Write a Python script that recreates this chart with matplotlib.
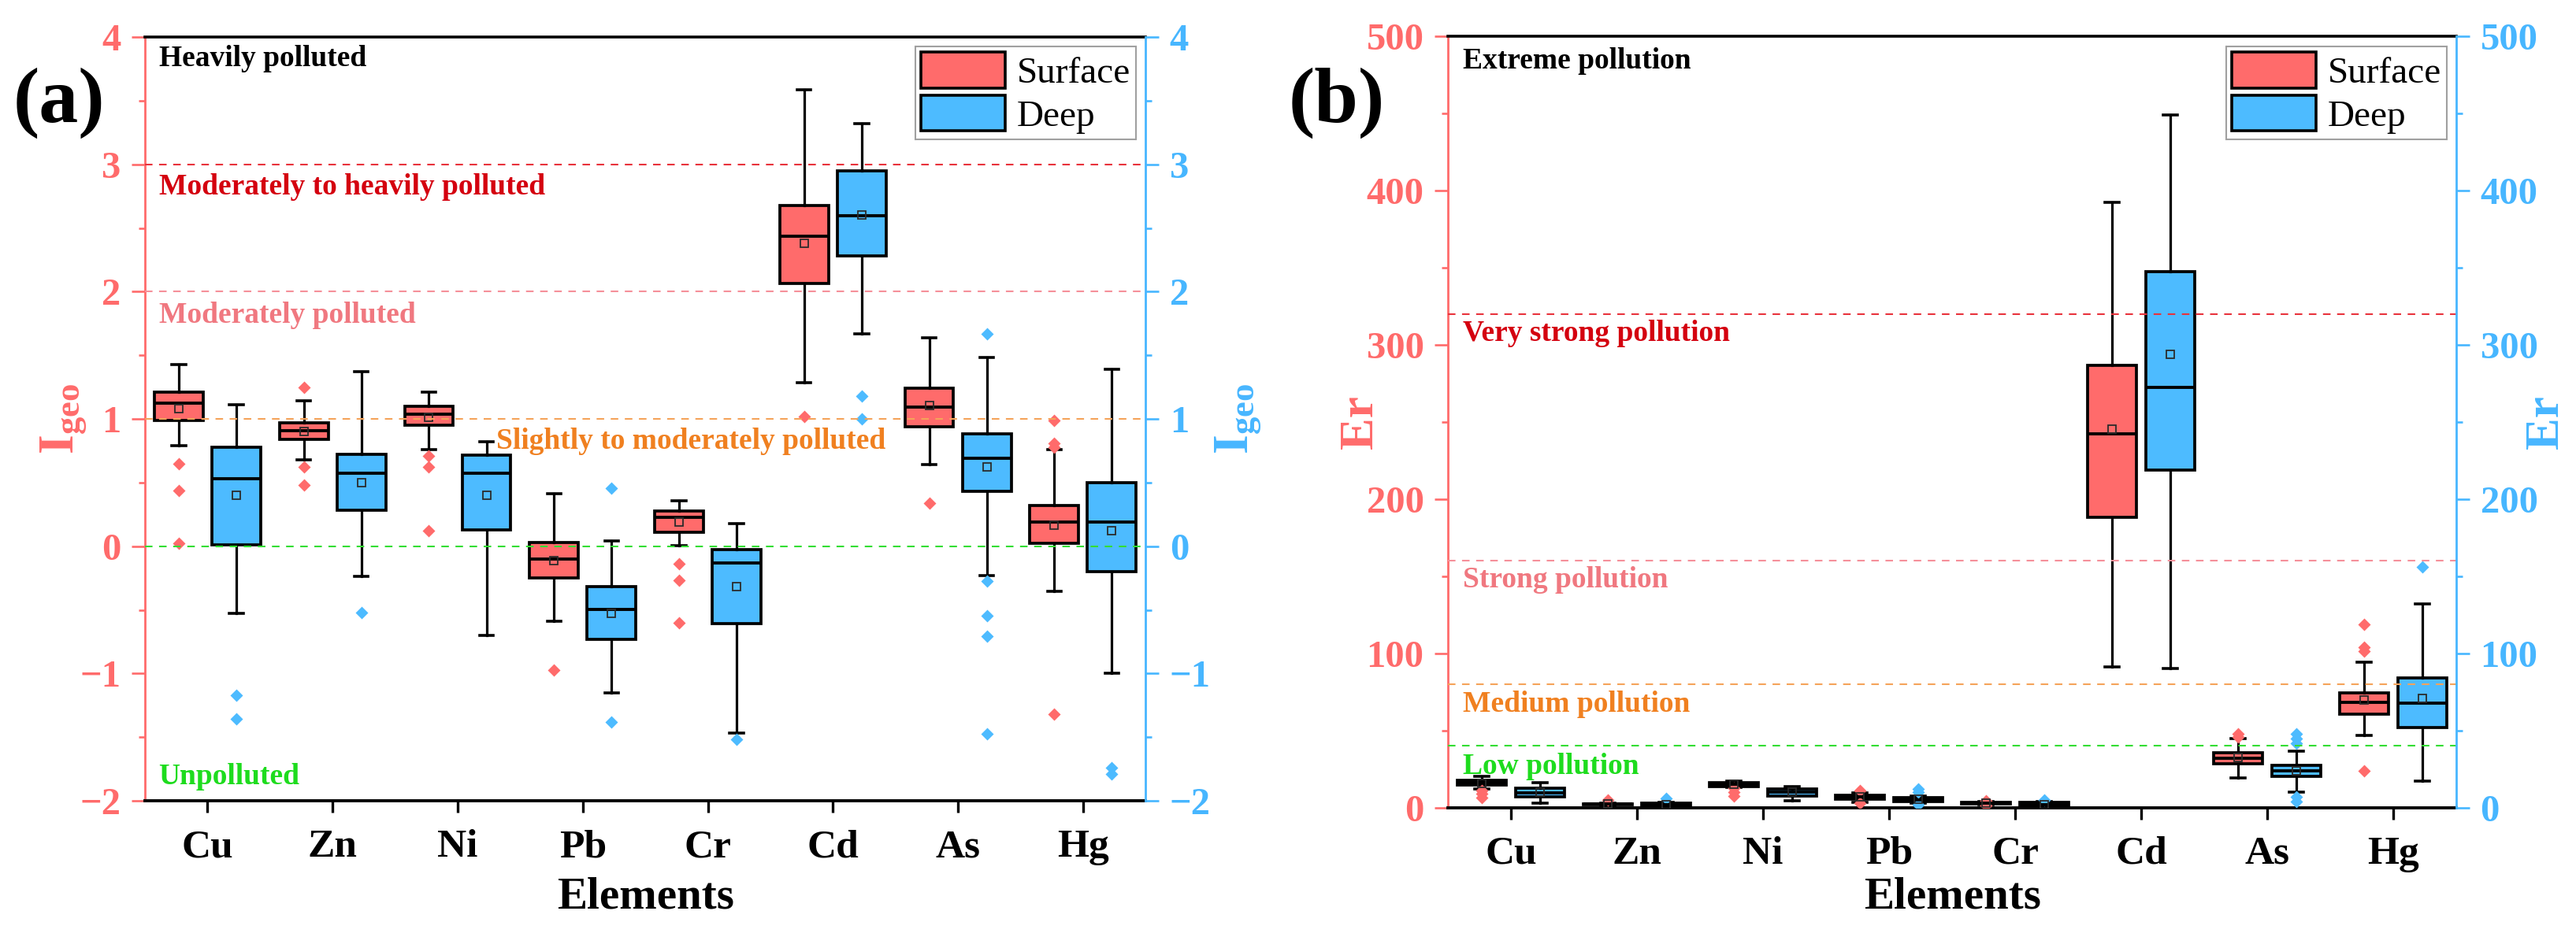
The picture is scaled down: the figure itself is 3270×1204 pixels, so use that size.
import matplotlib
matplotlib.use('Agg')
import matplotlib.pyplot as plt
from matplotlib.patches import Patch
from matplotlib.ticker import MultipleLocator
import numpy as np

plt.rcParams['font.family'] = ['Liberation Serif', 'DejaVu Serif']
plt.rcParams['mathtext.fontset'] = 'custom'
plt.rcParams['mathtext.rm'] = 'Liberation Serif'
plt.rcParams['mathtext.bf'] = 'Liberation Serif:bold'
plt.rcParams['mathtext.it'] = 'Liberation Serif:italic'
plt.rcParams['axes.unicode_minus'] = True

# ---------------- data ----------------
elements = ['Cu', 'Zn', 'Ni', 'Pb', 'Cr', 'Cd', 'As', 'Hg']

# (a) Igeo, surface soil
igeo_surf_low = [0.79, 0.68, 0.76, -0.59, 0.005, 1.284, 0.64, -0.354]
igeo_surf_q1 = [0.99, 0.84, 0.95, -0.25, 0.11, 2.066, 0.94, 0.023]
igeo_surf_med = [1.125, 0.905, 1.035, -0.10, 0.225, 2.437, 1.095, 0.188]
igeo_surf_q3 = [1.21, 0.97, 1.10, 0.03, 0.276, 2.674, 1.24, 0.317]
igeo_surf_high = [1.43, 1.14, 1.21, 0.41, 0.356, 3.585, 1.635, 0.76]
igeo_surf_mean = [1.08, 0.90, 1.01, -0.115, 0.19, 2.38, 1.107, 0.168]
igeo_surf_out = [[0.65, 0.44, 0.02], [1.25, 0.62, 0.48], [0.71, 0.625, 0.12],
                 [-0.975], [-0.137, -0.27, -0.60], [1.017], [0.34],
                 [0.99, 0.81, 0.78, -1.32]]

# (a) Igeo, deep soil
igeo_deep_low = [-0.53, -0.235, -0.70, -1.15, -1.47, 1.668, -0.23, -1.0]
igeo_deep_q1 = [0.01, 0.28, 0.13, -0.73, -0.61, 2.28, 0.43, -0.2]
igeo_deep_med = [0.53, 0.575, 0.575, -0.495, -0.13, 2.596, 0.69, 0.188]
igeo_deep_q3 = [0.78, 0.72, 0.715, -0.32, -0.026, 2.95, 0.88, 0.498]
igeo_deep_high = [1.11, 1.37, 0.82, 0.04, 0.175, 3.32, 1.48, 1.39]
igeo_deep_mean = [0.40, 0.50, 0.40, -0.53, -0.32, 2.60, 0.62, 0.12]
igeo_deep_out = [[-1.17, -1.355], [-0.52], [], [0.457, -1.38], [-1.515],
                 [1.18, 1.0], [1.668, -0.276, -0.547, -0.71, -1.476],
                 [-1.74, -1.79]]

# (b) Er, surface soil
er_surf_low = [11.8, 1.5, 13.3, 3.5, 2.0, 91, 19, 47]
er_surf_q1 = [14.4, 2.0, 13.8, 5.5, 2.4, 188, 28.5, 60.8]
er_surf_med = [16.0, 2.2, 15.1, 6.9, 3.0, 242.3, 32, 68.4]
er_surf_q3 = [17.7, 2.5, 16.3, 7.9, 3.4, 287, 35.4, 74.3]
er_surf_high = [20.3, 3.0, 17.1, 9.4, 4.0, 392.6, 44.6, 94]
er_surf_mean = [15.5, 2.3, 15.0, 6.8, 3.0, 245.6, 32.5, 69.8]
er_surf_out = [[11.2, 8.8, 6.5], [4.9], [12.8, 9.8, 7.3], [11.2, 3.0],
               [1.5, 4.6], [], [47.8, 45.8], [119, 104, 101.3, 23.6]]

# (b) Er, deep soil
er_deep_low = [2.9, 0.6, 4.5, 2.9, 0.8, 90, 10.2, 17.1]
er_deep_q1 = [6.9, 1.0, 7.5, 3.9, 1.0, 218.8, 20.3, 52.1]
er_deep_med = [9.6, 1.6, 9.8, 4.9, 1.8, 272.7, 24, 67.8]
er_deep_q3 = [12.8, 2.6, 12.2, 6.3, 3.3, 347.5, 27.3, 84.2]
er_deep_high = [16.3, 3.2, 13.4, 7.5, 4.0, 449, 36.8, 131.8]
er_deep_mean = [9.8, 1.8, 9.8, 5.2, 2.0, 294, 23.8, 70.8]
er_deep_out = [[], [5.9], [], [11.8, 9.8, 2.0], [5.0], [],
               [48, 44.6, 41.7, 6.9, 3.9], [156.3]]

# threshold levels
igeo_levels = [3, 2, 1, 0]
igeo_level_labels = ['Moderately to heavily polluted', 'Moderately polluted',
                     'Slightly to moderately polluted', 'Unpolluted']
er_levels = [320, 160, 80, 40]
er_level_labels = ['Very strong pollution', 'Strong pollution',
                   'Medium pollution', 'Low pollution']

# ---------------- style ----------------
C_SURF = '#FF6B6B'
C_DEEP = '#4DBBFF'
C_LEFT = '#FF6B6B'
C_RIGHT = '#47B6FF'
LINE_COLORS = ['#E8323C', '#F5909A', '#F5A35A', '#33DD33']
TEXT_COLORS = ['#D4000F', '#F07880', '#F08020', '#1EDC1E']
DASH = (0, (4.6, 4.0))


def make_stats(low, q1, med, q3, high, mean, out):
    return [dict(whislo=a, q1=b, med=c, q3=d, whishi=e, mean=f,
                 fliers=np.array(g, dtype=float))
            for a, b, c, d, e, f, g in zip(low, q1, med, q3, high, mean, out)]


def draw_boxes(ax, stats, positions, color):
    ax.bxp(stats, positions=positions, widths=0.39, patch_artist=True,
           showmeans=True, showfliers=True, manage_ticks=False,
           capwidths=0.11,
           boxprops=dict(facecolor=color, edgecolor='black', linewidth=2.7),
           medianprops=dict(color='black', linewidth=2.8),
           whiskerprops=dict(color='black', linewidth=2.3),
           capprops=dict(color='black', linewidth=2.6),
           meanprops=dict(marker='s', markerfacecolor='none',
                          markeredgecolor='#2b2b2b', markersize=7.5,
                          markeredgewidth=1.3),
           flierprops=dict(marker='D', markerfacecolor=color,
                           markeredgecolor='none', markersize=8),
           zorder=3)


def style_axes(ax, ylim, major, minor):
    ax.set_xlim(0.5, 8.5)
    ax.set_ylim(*ylim)
    ax.set_xticks(np.arange(1, 9))
    ax.set_xticklabels(elements, fontsize=37, fontweight='bold')
    ax.yaxis.set_major_locator(MultipleLocator(major))
    ax.yaxis.set_minor_locator(MultipleLocator(minor))
    ax.tick_params(axis='x', direction='out', length=11, width=2.4,
                   color='black', pad=15, top=False)
    ax.tick_params(axis='y', which='major', direction='out', length=12,
                   width=1.9, color=C_LEFT, labelcolor=C_LEFT, labelsize=35,
                   pad=10)
    ax.tick_params(axis='y', which='minor', direction='out', length=6,
                   width=1.9, color=C_LEFT)
    for lab in ax.get_yticklabels():
        lab.set_fontweight('bold')
    ax.spines['left'].set_color(C_LEFT)
    ax.spines['left'].set_linewidth(2.0)
    ax.spines['top'].set_linewidth(2.6)
    ax.spines['bottom'].set_linewidth(2.8)
    ax.spines['right'].set_visible(False)

    ax2 = ax.twinx()
    ax2.set_ylim(*ylim)
    ax2.yaxis.set_major_locator(MultipleLocator(major))
    ax2.yaxis.set_minor_locator(MultipleLocator(minor))
    ax2.tick_params(axis='y', which='major', direction='out', length=12,
                    width=1.9, color=C_RIGHT, labelcolor=C_RIGHT,
                    labelsize=35, pad=10)
    ax2.tick_params(axis='y', which='minor', direction='out', length=6,
                    width=1.9, color=C_RIGHT)
    for lab in ax2.get_yticklabels():
        lab.set_fontweight('bold')
    for s in ['left', 'top', 'bottom']:
        ax2.spines[s].set_visible(False)
    ax2.spines['right'].set_color(C_RIGHT)
    ax2.spines['right'].set_linewidth(2.0)
    return ax2


def add_legend(ax2, anchor):
    handles = [Patch(facecolor=C_SURF, edgecolor='black', linewidth=2.6,
                     label='Surface'),
               Patch(facecolor=C_DEEP, edgecolor='black', linewidth=2.6,
                     label='Deep')]
    leg = ax2.legend(handles=handles, loc='upper right', bbox_to_anchor=anchor,
                     borderaxespad=0, fontsize=34, frameon=True, fancybox=False,
                     edgecolor='#A0A0A0', framealpha=1, handlelength=2.27,
                     handleheight=1.1, labelspacing=0.13, handletextpad=0.32,
                     borderpad=0.15)
    leg.get_frame().set_linewidth(1.5)


fig = plt.figure(figsize=(32.7, 12.04), dpi=100)
pos = np.arange(1, 9)

# ---------------- panel (a) ----------------
axa = fig.add_axes([0.0563, 0.1553, 0.3884, 0.8056])
draw_boxes(axa, make_stats(igeo_surf_low, igeo_surf_q1, igeo_surf_med,
                           igeo_surf_q3, igeo_surf_high, igeo_surf_mean,
                           igeo_surf_out), pos - 0.23, C_SURF)
draw_boxes(axa, make_stats(igeo_deep_low, igeo_deep_q1, igeo_deep_med,
                           igeo_deep_q3, igeo_deep_high, igeo_deep_mean,
                           igeo_deep_out), pos + 0.23, C_DEEP)
for lv, lc in zip(igeo_levels, LINE_COLORS):
    axa.axhline(lv, color=lc, linestyle=DASH, linewidth=1.5, zorder=4)
axa2 = style_axes(axa, (-2, 4), 1, 0.5)

tk = dict(fontsize=27, fontweight='bold', ha='left', zorder=5)
axa.text(0.61, 3.94, 'Heavily polluted', color='black', va='top', **tk)
axa.text(0.61, 2.93, igeo_level_labels[0], color=TEXT_COLORS[0], va='top', **tk)
axa.text(0.61, 1.92, igeo_level_labels[1], color=TEXT_COLORS[1], va='top', **tk)
axa.text(3.31, 0.93, igeo_level_labels[2], color=TEXT_COLORS[2], va='top', **tk)
axa.text(0.61, -1.92, igeo_level_labels[3], color=TEXT_COLORS[3], va='bottom', **tk)
add_legend(axa2, (0.9906, 0.9876))

# ---------------- panel (b) ----------------
axb = fig.add_axes([0.5621, 0.1482, 0.3914, 0.8132])
draw_boxes(axb, make_stats(er_surf_low, er_surf_q1, er_surf_med, er_surf_q3,
                           er_surf_high, er_surf_mean, er_surf_out),
           pos - 0.23, C_SURF)
draw_boxes(axb, make_stats(er_deep_low, er_deep_q1, er_deep_med, er_deep_q3,
                           er_deep_high, er_deep_mean, er_deep_out),
           pos + 0.23, C_DEEP)
for lv, lc in zip(er_levels, LINE_COLORS):
    axb.axhline(lv, color=lc, linestyle=DASH, linewidth=1.5, zorder=4)
axb2 = style_axes(axb, (0, 500), 100, 50)

axb.text(0.62, 493, 'Extreme pollution', color='black', va='top', **tk)
axb.text(0.62, 316.5, er_level_labels[0], color=TEXT_COLORS[0], va='top', **tk)
axb.text(0.62, 156.5, er_level_labels[1], color=TEXT_COLORS[1], va='top', **tk)
axb.text(0.62, 76, er_level_labels[2], color=TEXT_COLORS[2], va='top', **tk)
axb.text(0.62, 35.5, er_level_labels[3], color=TEXT_COLORS[3], va='top', **tk)
add_legend(axb2, (0.991, 0.987))

# ---------------- figure texts ----------------
W, H = 3270.0, 1204.0
fig.text(75 / W, 1 - 131 / H, '(a)', ha='center', va='center', fontsize=72,
         fontweight='bold')
fig.text(1697 / W, 1 - 131 / H, '(b)', ha='center', va='center', fontsize=72,
         fontweight='bold')
igeo_lab = r'$\mathbf{I}_{\mathbf{geo}}$'
fig.text(81 / W, 1 - 532 / H, igeo_lab, rotation=90, ha='center', va='center',
         fontsize=46, color=C_LEFT)
fig.text(1572 / W, 1 - 532 / H, igeo_lab, rotation=90, ha='center',
         va='center', fontsize=46, color=C_RIGHT)
fig.text(1727 / W, 1 - 536 / H, 'Er', rotation=90, ha='center', va='center',
         fontsize=44, fontweight='bold', color=C_LEFT)
fig.text(3232 / W, 1 - 536 / H, 'Er', rotation=90, ha='center', va='center',
         fontsize=44, fontweight='bold', color=C_RIGHT)
fig.text(819 / W, 1 - 1140 / H, 'Elements', ha='center', va='center',
         fontsize=41, fontweight='bold')
fig.text(2478 / W, 1 - 1140 / H, 'Elements', ha='center', va='center',
         fontsize=41, fontweight='bold')

fig.savefig('out.png', dpi=100)
